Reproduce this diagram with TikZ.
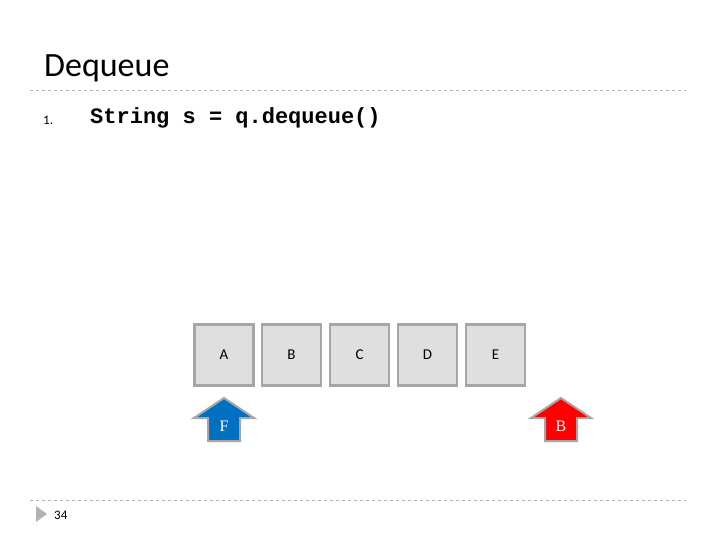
\documentclass[tikz,border=0pt]{standalone}
\usepackage{fontspec}
\setmainfont{Liberation Serif}
\setsansfont{Carlito}
\setmonofont{Liberation Mono}
\begin{document}
\begin{tikzpicture}[x=1pt,y=-1pt,
  cell/.style={draw=gray!70,line width=2.5pt,fill=gray!25,minimum width=59pt,minimum height=61pt,inner sep=0pt,font=\sffamily\fontsize{15}{15}\selectfont},
  rule/.style={draw=gray!60,dashed,line width=0.6pt},
  lab/.style={font=\rmfamily\fontsize{16}{16}\selectfont,text=white}]
\useasboundingbox (0,0) rectangle (720,540);
\node[anchor=base west,font=\sffamily\fontsize{34}{34}\selectfont,inner sep=0pt] (title) at (44,77) {Dequeue};
\coordinate (l1a) at (30,90); \coordinate (l1b) at (686,90);
\draw[rule] (l1a) -- (l1b);
\node[anchor=base west,font=\sffamily\fontsize{13}{13}\selectfont,inner sep=0pt] (num) at (43,125) {1.};
\node[anchor=base west,font=\ttfamily\bfseries\fontsize{22}{22}\selectfont,inner sep=0pt] (code) at (90,124) {String s = q.dequeue()};
\node[cell] (A) at (224,355) {A};
\node[cell] (B) at (291.5,355) {B};
\node[cell] (C) at (359.5,355) {C};
\node[cell] (D) at (427.5,355) {D};
\node[cell] (E) at (495.5,355) {E};
\draw[draw=gray!70,line width=2pt,fill={rgb,255:red,0;green,112;blue,192}]
  (224,398) -- (254,418) -- (240,418) -- (240,441) -- (208,441) -- (208,418) -- (194,418) -- cycle;
\node[lab] (F) at (224,426) {F};
\draw[draw=gray!70,line width=2pt,fill=red]
  (561,398) -- (591,418) -- (577,418) -- (577,441) -- (545,441) -- (545,418) -- (531,418) -- cycle;
\node[lab] (R) at (561,426) {B};
\coordinate (l2a) at (30,500); \coordinate (l2b) at (686,500);
\draw[rule] (l2a) -- (l2b);
\fill[gray!60] (36,506) -- (47,514) -- (36,522) -- cycle;
\node[anchor=base west,font=\sffamily\fontsize{13}{13}\selectfont,inner sep=0pt] (pg) at (54,519) {34};
\end{tikzpicture}
\end{document}
